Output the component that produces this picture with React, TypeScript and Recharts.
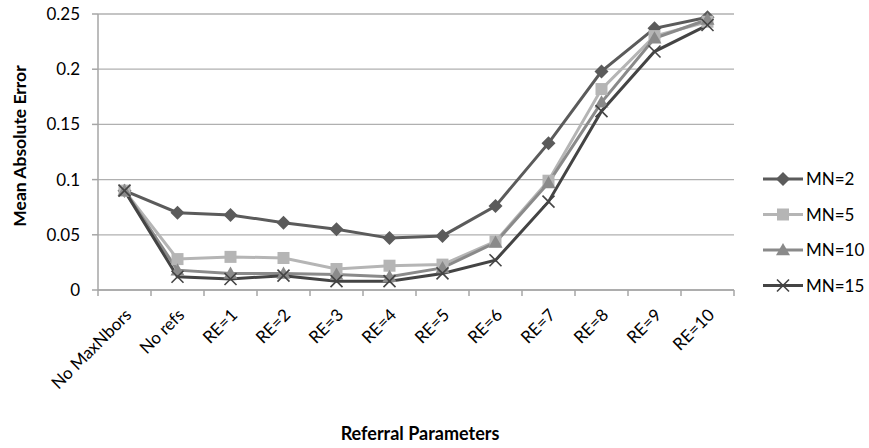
import React from 'react';
import { ComposedChart, Line, XAxis, YAxis, CartesianGrid } from 'recharts';

const categories = ['No MaxNbors', 'No refs', 'RE=1', 'RE=2', 'RE=3', 'RE=4', 'RE=5', 'RE=6', 'RE=7', 'RE=8', 'RE=9', 'RE=10'];
const mn2 = [0.09, 0.07, 0.068, 0.061, 0.055, 0.047, 0.049, 0.076, 0.133, 0.198, 0.237, 0.247];
const mn5 = [0.09, 0.028, 0.03, 0.029, 0.019, 0.022, 0.023, 0.044, 0.099, 0.182, 0.23, 0.243];
const mn10 = [0.09, 0.018, 0.015, 0.015, 0.014, 0.012, 0.02, 0.043, 0.097, 0.17, 0.228, 0.245];
const mn15 = [0.09, 0.012, 0.01, 0.013, 0.008, 0.008, 0.015, 0.027, 0.08, 0.162, 0.216, 0.24];
const yTicks = [0, 0.05, 0.1, 0.15, 0.2, 0.25];

const series = [
  { key: 'MN=2', values: mn2, color: '#5b5b5b', shape: 'diamond' },
  { key: 'MN=5', values: mn5, color: '#b5b5b5', shape: 'square' },
  { key: 'MN=10', values: mn10, color: '#8a8a8a', shape: 'triangle' },
  { key: 'MN=15', values: mn15, color: '#444444', shape: 'cross' },
];

const data = categories.map((c, i) => {
  const row: any = { name: c };
  series.forEach((s) => { row[s.key] = s.values[i]; });
  return row;
});

const FONT = 'Lato, "Open Sans", sans-serif';
const AXIS = '#a6a6a6';

function Marker({ cx, cy, shape, color }: any) {
  if (cx == null || cy == null) return null;
  if (shape === 'diamond') {
    const r = 7;
    return <polygon points={`${cx},${cy - r} ${cx + r},${cy} ${cx},${cy + r} ${cx - r},${cy}`} fill={color} />;
  }
  if (shape === 'square') {
    const r = 6;
    return <rect x={cx - r} y={cy - r} width={2 * r} height={2 * r} fill={color} />;
  }
  if (shape === 'triangle') {
    const r = 7;
    return <polygon points={`${cx},${cy - r} ${cx + r},${cy + r * 0.75} ${cx - r},${cy + r * 0.75}`} fill={color} />;
  }
  const r = 6;
  return (
    <g stroke={color} strokeWidth={1.6}>
      <line x1={cx - r} y1={cy - r} x2={cx + r} y2={cy + r} />
      <line x1={cx - r} y1={cy + r} x2={cx + r} y2={cy - r} />
    </g>
  );
}

function XTick(props: any) {
  const { x, y, payload, index } = props;
  const half = payload && payload.offset ? payload.offset : 26.5;
  const last = index === categories.length - 1;
  const tx = x + 8;
  const ty = y + 18;
  return (
    <g>
      <line x1={x - half} y1={y - 8} x2={x - half} y2={y - 2} stroke={AXIS} strokeWidth={1.5} />
      {last && <line x1={x + half} y1={y - 8} x2={x + half} y2={y - 2} stroke={AXIS} strokeWidth={1.5} />}
      <text
        x={tx}
        y={ty}
        transform={`rotate(-45, ${tx}, ${ty})`}
        textAnchor="end"
        fontSize={17}
        fontFamily={FONT}
        fill="#000"
      >
        {payload.value}
      </text>
    </g>
  );
}

function LegendBox() {
  return (
    <svg width={110} height={140} style={{ position: 'absolute', left: 760, top: 168 }}>
      {series.map((s, i) => {
        const y = 11 + i * 35.5;
        return (
          <g key={s.key}>
            <line x1={3} y1={y} x2={43} y2={y} stroke={s.color} strokeWidth={3} />
            <Marker cx={23} cy={y} shape={s.shape} color={s.color} />
            <text x={46} y={y + 6} fontSize={17} fontFamily={FONT} fill="#000">{s.key}</text>
          </g>
        );
      })}
    </svg>
  );
}

function YLabel() {
  const cy = 146;
  const cx = 19;
  return (
    <text x={cx} y={cy} transform={`rotate(-90, ${cx}, ${cy})`} textAnchor="middle" dominantBaseline="central" fontSize={17.5} fontWeight="bold" fontFamily={FONT} fill="#000">
      Mean Absolute Error
    </text>
  );
}

function XLabel() {
  return (
    <text x={420} y={440} textAnchor="middle" fontSize={18} fontWeight="bold" fontFamily={FONT} fill="#000">
      Referral Parameters
    </text>
  );
}

export default function App() {
  return (
    <div style={{ position: 'absolute', left: 0, top: 0, width: 869, height: 448, background: '#fff' }}>
      <ComposedChart width={869} height={448} data={data} margin={{ top: 14, right: 135, bottom: 0, left: 0 }}>
        <CartesianGrid horizontal vertical={false} stroke="#b0b0b0" strokeWidth={1.3} />
        <XAxis
          dataKey="name"
          scale="band"
          height={158}
          axisLine={{ stroke: AXIS, strokeWidth: 1.5 }}
          tickLine={false}
          interval={0}
          tick={<XTick />}
          label={<XLabel />}
        />
        <YAxis
          width={98}
          domain={[0, 0.25]}
          ticks={yTicks}
          axisLine={{ stroke: AXIS, strokeWidth: 1.5 }}
          tickLine={{ stroke: AXIS, strokeWidth: 1.5 }}
          tickSize={6}
          tickMargin={12}
          tick={{ fontSize: 17, fontFamily: FONT, fill: '#000' }}
          label={<YLabel />}
        />
        {series.map((s) => (
          <Line
            key={s.key}
            dataKey={s.key}
            stroke={s.color}
            strokeWidth={3}
            isAnimationActive={false}
            dot={(p: any) => <Marker key={`${s.key}-${p.index}`} cx={p.cx} cy={p.cy} shape={s.shape} color={s.color} />}
            activeDot={false}
          />
        ))}
      </ComposedChart>
      <LegendBox />
    </div>
  );
}
